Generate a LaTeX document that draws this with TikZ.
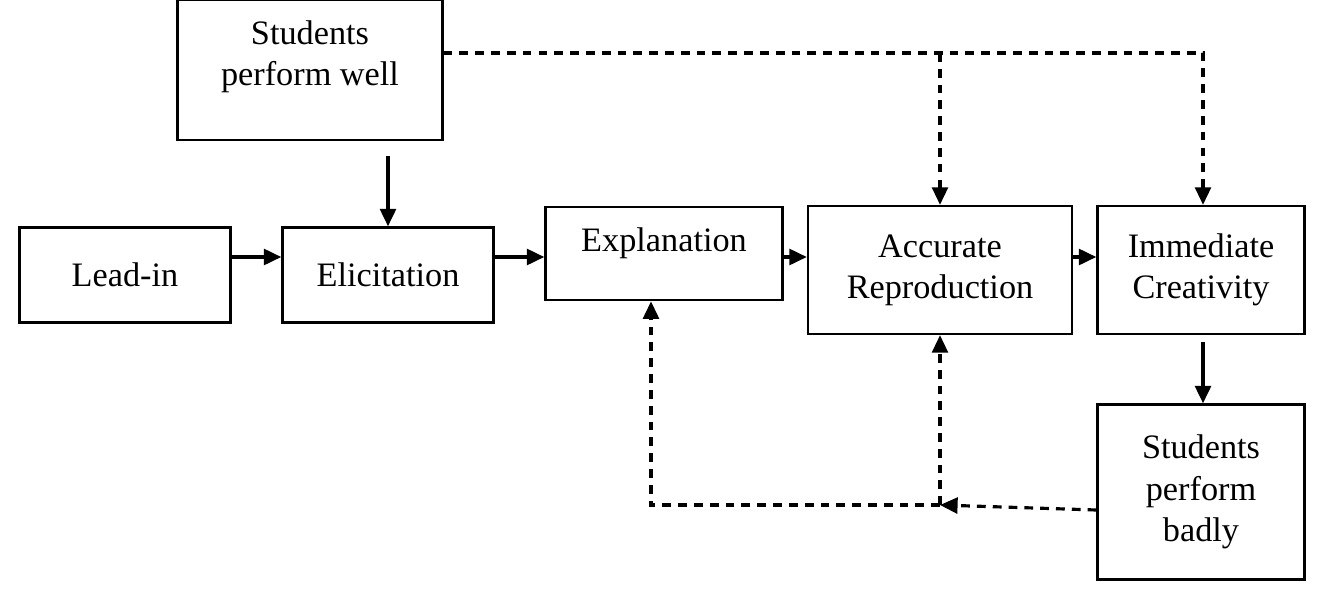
\documentclass[tikz,border=0pt]{standalone}
\usepackage{fontspec}
\setmainfont{Liberation Serif}
\usetikzlibrary{arrows.meta}
\begin{document}
\begin{tikzpicture}[x=0.02cm,y=-0.02cm,
  box/.style={draw=black,line width=1.3pt,align=center,inner sep=0pt,font=\fontsize{19.5}{23.5}\selectfont},
  flow/.style={-{Triangle[length=10pt,width=9pt]},line width=2pt},
  back/.style={-{Triangle[length=10pt,width=9pt]},line width=1.8pt,dash pattern=on 5pt off 4pt}]
	\useasboundingbox (0,0) rectangle (1328,595);

	\node[box,minimum width=265*0.02cm,minimum height=140*0.02cm] (well) at (310,70) {};
	\node[box,draw=none] (welltext) at (310,57) {Students\\perform well};
	\node[box,minimum width=211*0.02cm,minimum height=95*0.02cm] (lead) at (125,275) {Lead-in};
	\node[box,minimum width=211*0.02cm,minimum height=95*0.02cm] (elic) at (388,275) {Elicitation};
	\node[box,minimum width=237*0.02cm,minimum height=93*0.02cm,anchor=north,text height=44*0.02cm,text depth=49*0.02cm] (expl) at (664,206) {Explanation};
	\node[box,minimum width=264*0.02cm,minimum height=128*0.02cm] (accu) at (940,270) {Accurate\\Reproduction};
	\node[box,minimum width=207*0.02cm,minimum height=128*0.02cm] (imme) at (1201,270) {Immediate\\Creativity};
	\node[box,minimum width=207*0.02cm,minimum height=175*0.02cm] (bad) at (1201,492) {Students\\perform\\badly};

	\coordinate (top) at (1203,53);
	\coordinate (mid) at (940,53);
	\coordinate (low) at (940,505);
	\coordinate (left) at (651,505);

    % main sequence
    \draw[flow] ([yshift=-15*0.02cm]well.south -| elic) -- (elic.north);
    \draw[flow] (lead.east |- 0,257) -- (elic.west |- 0,257);
    \draw[flow] (elic.east |- 0,257) -- (expl.west |- 0,257);
    \draw[flow] (expl.east |- 0,257) -- (accu.west |- 0,257);
    \draw[flow] (accu.east |- 0,257) -- (imme.west |- 0,257);
    \draw[flow] ([yshift=-7*0.02cm]imme.south -| top) -- (bad.north -| top);

    % feedback
    \draw[back] (well.east |- top) -- (top) -- (imme.north -| top);
    \draw[back] (mid) -- (accu.north);
    \draw[back] (bad.west |- 0,510) -- (low);
    \draw[back] (low) -- (accu.south);
    \draw[back] (low) -- (left) -- (expl.south -| left);
\end{tikzpicture}
\end{document}
